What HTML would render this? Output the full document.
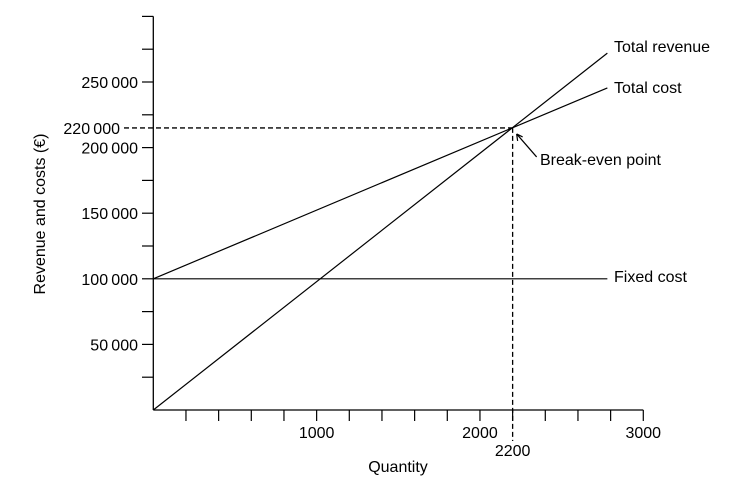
<!DOCTYPE html>
<html><head><meta charset="utf-8"><style>
body{margin:0;background:#fff}
svg{display:block;font-family:"Liberation Sans",Arial,sans-serif}
</style></head><body>
<svg id="c" width="729" height="497"></svg>
<script>
const xTicks=[200,400,600,800,1000,1200,1400,1600,1800,2000,2200,2400,2600,2800,3000];
const xLabels=[1000,2000,3000];
const yTicks=[25000,50000,75000,100000,125000,150000,175000,200000,225000,250000,275000,300000];
const yLabels=[50000,100000,150000,200000,250000];
const lineQ=[0,2780];
const revenue=[0,272000];
const totalCost=[100000,245500];
const fixedCost=[100000,100000];
const breakEvenQ=2200;
const breakEvenV=215000;
const breakEvenLabel="220\u2009000";
const ns="http://www.w3.org/2000/svg";
const svg=document.getElementById('c');
const X=q=>153.3+q*0.16333;
const Y=v=>410-v*0.001312;
function el(t,a,txt){const e=document.createElementNS(ns,t);for(const k in a)e.setAttribute(k,a[k]);if(txt!=null)e.textContent=txt;svg.appendChild(e);return e;}
const fmt=v=>String(v).replace(/\B(?=(\d{3})+$)/g,'\u2009');
let e;
e=el('line',{x1:X(0),y1:Y(0),x2:X(3000),y2:Y(0),stroke:'#000','stroke-width':1.3});


e=el('line',{x1:X(0),y1:Y(0),x2:X(0),y2:Y(300000),stroke:'#000','stroke-width':1.3});


xTicks.forEach(q=>{e=el('line',{x1:X(q),y1:410,x2:X(q),y2:421,stroke:'#000','stroke-width':1.2});

});
xLabels.forEach(q=>{e=el('text',{x:X(q),y:438,'font-size':16,'text-anchor':'middle'},q);

});
yTicks.forEach(v=>{e=el('line',{x1:142,y1:Y(v),x2:X(0),y2:Y(v),stroke:'#000','stroke-width':1.2});

});
yLabels.forEach(v=>{e=el('text',{x:138,y:Y(v)+6,'font-size':16,'text-anchor':'end'},fmt(v));

});
function series(vals,name){e=el('line',{x1:X(lineQ[0]),y1:Y(vals[0]),x2:X(lineQ[1]),y2:Y(vals[1]),stroke:'#000','stroke-width':1.2});

}
series(revenue,'total-revenue-line');
series(totalCost,'total-cost-line');
series(fixedCost,'fixed-cost-line');
e=el('line',{x1:124,y1:Y(breakEvenV),x2:X(breakEvenQ),y2:Y(breakEvenV),stroke:'#000','stroke-width':1.3,'stroke-dasharray':'5,3'});


e=el('line',{x1:X(breakEvenQ),y1:Y(breakEvenV),x2:X(breakEvenQ),y2:441,stroke:'#000','stroke-width':1.3,'stroke-dasharray':'5,3'});


e=el('text',{x:120,y:Y(breakEvenV)+6,'font-size':16,'text-anchor':'end'},breakEvenLabel);


e=el('text',{x:X(breakEvenQ),y:456,'font-size':16,'text-anchor':'middle'},breakEvenQ);


const bx=X(breakEvenQ),by=Y(breakEvenV);
e=el('path',{d:`M${bx+4},${by+6} L${bx+24},${by+29} M${bx+4},${by+6} l1,7 M${bx+4},${by+6} l6,3`,stroke:'#000','stroke-width':1.2,fill:'none'});


e=el('text',{x:540,y:165,'font-size':16},'Break-even point');


e=el('text',{x:614,y:Y(revenue[1])-1,'font-size':16},'Total revenue');


e=el('text',{x:614,y:Y(totalCost[1])+5,'font-size':16},'Total cost');


e=el('text',{x:614,y:Y(fixedCost[1])+3,'font-size':16},'Fixed cost');


e=el('text',{x:398,y:472,'font-size':16,'text-anchor':'middle'},'Quantity');


e=el('text',{x:0,y:0,'font-size':16,'text-anchor':'middle',transform:'translate(45,214) rotate(-90)'},'Revenue and costs (€)');


</script>
</body></html>
